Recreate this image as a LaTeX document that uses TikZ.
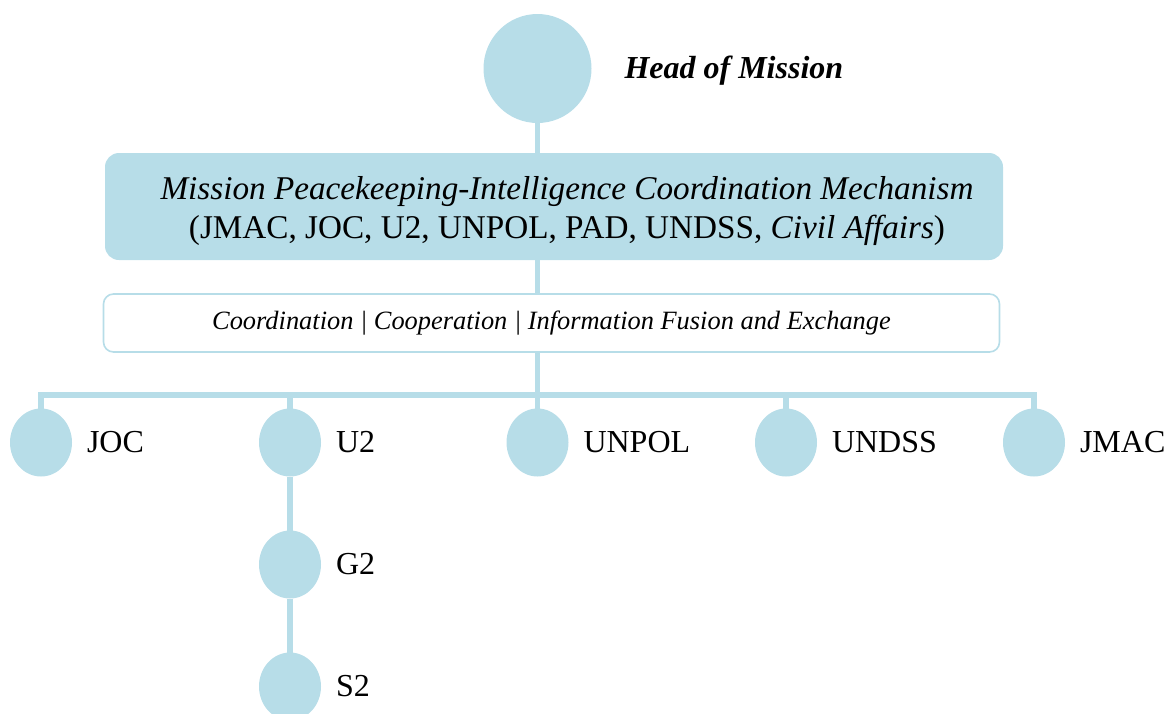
\documentclass[tikz,border=0pt]{standalone}
\usepackage{fontspec}
\setmainfont{Liberation Serif}
\usetikzlibrary{positioning,shapes.geometric}
\definecolor{hmblue}{HTML}{B7DDE8}

\begin{document}
\begin{tikzpicture}[x=0.5pt, y=-0.5pt, node distance=7.5pt, line width=2.8pt,
    every node/.style={outer sep=0pt},
    unit/.style={ellipse, fill=hmblue, inner sep=0pt, minimum width=31pt, minimum height=34pt},
    lbl/.style={inner sep=0pt, font=\fontsize{16}{19.5}\selectfont},
    link/.style={draw=hmblue, line width=2.8pt}]
    \useasboundingbox (0,0) rectangle (1168,713);
    % Nodes
    \node [ellipse, fill=hmblue, inner sep=0pt, minimum width=54pt, minimum height=54.5pt] (hom) at (537.5,68.5) {};
    \node [lbl, right=16.5pt of hom, yshift=-1pt, font=\fontsize{16}{19.5}\selectfont\bfseries\itshape] (homtxt) {Head of Mission};

    \node [rectangle, rounded corners=7pt, fill=hmblue, minimum width=449pt, minimum height=53.5pt,
           align=center, font=\fontsize{16.6}{19.5}\selectfont] (mech) at (554,206.5)
          {\hspace*{13pt}\rule{0pt}{16.5pt}\textit{Mission Peacekeeping-Intelligence Coordination Mechanism}\\
           \hspace*{13pt}(JMAC, JOC, U2, UNPOL, PAD, UNDSS, \textit{Civil Affairs})};

    \node [rectangle, rounded corners=5pt, draw=hmblue, line width=0.8pt, fill=white,
           minimum width=448pt, minimum height=29pt, font=\fontsize{13.2}{16}\selectfont\itshape]
          (fusion) at (551.5,323) {Coordination | Cooperation | Information Fusion and Exchange};

    \coordinate (bar) at (537.5,395);

    \node [unit] (joc) at (41,442.5) {};
    \node [unit] (u2) at (290,442.5) {};
    \node [unit] (unpol) at (537.5,442.5) {};
    \node [unit] (undss) at (786,442.5) {};
    \node [unit] (jmac) at (1034,442.5) {};
    \node [unit, below=27pt of u2] (g2) {};
    \node [unit, below=27pt of g2] (s2) {};

    \node [lbl, right=of joc] (joctxt) {JOC};
    \node [lbl, right=of u2] (u2txt) {U2};
    \node [lbl, right=of unpol] (unpoltxt) {UNPOL};
    \node [lbl, right=of undss] (undsstxt) {UNDSS};
    \node [lbl, right=of jmac] (jmactxt) {JMAC};
    \node [lbl, right=of g2] (g2txt) {G2};
    \node [lbl, right=of s2] (s2txt) {S2};

    % Lines
    \draw [link] (hom.south) -- (hom.south |- mech.north);
    \draw [link] (mech.south -| hom) -- (fusion.north -| hom);
    \draw [link] (fusion.south -| hom) -- (bar);
    \draw [link] (bar) -| (joc);
    \draw [link] (bar) -| (u2);
    \draw [link] (bar) -- (unpol);
    \draw [link] (bar) -| (undss);
    \draw [link] (bar) -| (jmac);
    \draw [link] (u2) -- (g2);
    \draw [link] (g2) -- (s2);
\end{tikzpicture}
\end{document}
